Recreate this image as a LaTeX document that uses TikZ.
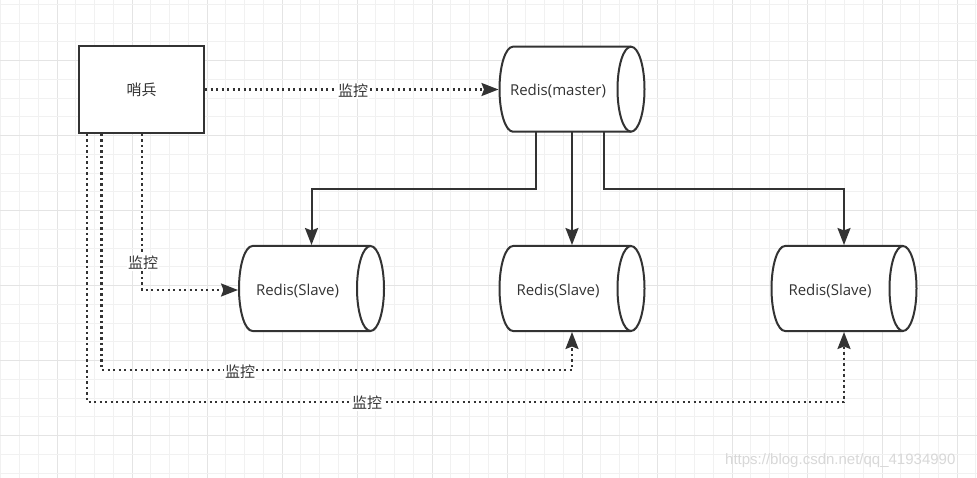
\documentclass[tikz,border=0pt]{standalone}
\usepackage{fontspec}
\setmainfont{Liberation Sans}
\newfontfamily\cjk{Noto Sans CJK SC}
\newfontfamily\lat{Open Sans}
\usetikzlibrary{arrows.meta,calc}
\definecolor{ink}{HTML}{333333}
\definecolor{gridminor}{HTML}{F1F1F1}
\definecolor{gridmajor}{HTML}{E4E4E4}
\definecolor{wm}{HTML}{D8D8D8}
\newcommand{\cylbody}[1]{%
  \draw[draw=ink, line width=2pt, fill=white, line join=round]
    ([xshift=13.5pt]#1.north west) -- ([xshift=-13.5pt]#1.north east)
    arc[start angle=90, end angle=-90, x radius=13.5pt, y radius=42.5pt]
    -- ([xshift=13.5pt]#1.south west)
    arc[start angle=270, end angle=90, x radius=13.5pt, y radius=42.5pt] -- cycle;
  \draw[draw=ink, line width=2pt]
    ([xshift=-13.5pt]#1.north east)
    arc[start angle=90, end angle=270, x radius=13.5pt, y radius=42.5pt];}
\begin{document}
\begin{tikzpicture}[x=1pt,y=-1pt,
  txt/.style={font=\cjk\fontsize{15}{18}\selectfont, text=ink},
  sentry/.style={txt, draw=ink, line width=2pt, fill=white, minimum width=125pt, minimum height=87pt, inner sep=0pt},
  cyl/.style={font=\lat\fontsize{15}{18}\selectfont, text=ink, minimum width=145pt, minimum height=85pt, inner sep=0pt, outer sep=0pt},
  solidarrow/.style={draw=ink, line width=2pt, -{Stealth[length=17pt,width=13pt,inset=2.5pt]}},
  dotarrow/.style={draw=ink, line width=2.2pt, dash pattern=on 2.2pt off 3.3pt, -{Stealth[length=17pt,width=13pt,inset=2.5pt]}},
  lbl/.style={txt, fill=white, inner sep=1pt}
]
\fill[white] (0,0) rectangle (977,478);
\useasboundingbox (0,0) rectangle (977,478);
% grid
\foreach \i in {0,...,52} {
  \pgfmathtruncatemacro{\r}{mod(\i,4)}
  \ifnum\r=3 \def\gc{gridmajor}\else\def\gc{gridminor}\fi
  \draw[\gc, line width=1pt] ({0.75+18.75*\i},0) -- ({0.75+18.75*\i},478);
}
\foreach \j in {0,...,25} {
  \pgfmathtruncatemacro{\r}{mod(\j,4)}
  \ifnum\r=3 \def\gc{gridmajor}\else\def\gc{gridminor}\fi
  \draw[\gc, line width=1pt] (0,{4.3+18.75*\j}) -- (977,{4.3+18.75*\j});
}
% nodes
\node[sentry] (sb) at (141.5,89.5) {哨兵};
\node[cyl] (m) at (572,89.2) {};
\node[cyl] (s1) at (311.5,288.5) {};
\node[cyl] (s2) at (572,288.5) {};
\node[cyl] (s3) at (844,288.5) {};
\cylbody{m}\cylbody{s1}\cylbody{s2}\cylbody{s3}
\node[cyl, yshift=-2pt] at (m.center) {\hspace*{-28pt}Redis(master)};
\node[cyl, yshift=-2pt] at (s1.center) {\hspace*{-28pt}Redis(Slave)};
\node[cyl, yshift=-2pt] at (s2.center) {\hspace*{-28pt}Redis(Slave)};
\node[cyl, yshift=-2pt] at (s3.center) {\hspace*{-28pt}Redis(Slave)};
% master -> slaves
\draw[solidarrow] ($(m.south)+(-36,0)$) -- ++(0,57) -| ($(s1.north)+(0,-1)$);
\draw[solidarrow] (m.south) -- ($(s2.north)+(0,-1)$);
\draw[solidarrow] ($(m.south)+(32,0)$) -- ++(0,57) -| ($(s3.north)+(0,-1)$);
% sentinel monitoring
\draw[dotarrow] (sb.east) -- ($(m.west)+(-1,0.3)$);
\draw[dotarrow] ($(sb.south)+(0.5,0)$) |- ($(s1.west)+(-1,1.5)$);
\draw[dotarrow] ($(sb.south)+(-40,0)$) -- ++(0,236) -| ($(s2.south)+(0,1)$);
\draw[dotarrow] ($(sb.south)+(-54.5,0)$) -- ++(0,268) -| ($(s3.south)+(0,1)$);
% labels
\node[lbl] (l1) at (353,91) {监控};
\node[lbl] (l2) at (143,263) {监控};
\node[lbl] (l3) at (240,372) {监控};
\node[lbl] (l4) at (367,403) {监控};
% watermark
\node[font=\fontsize{15}{18}\selectfont, text=wm, anchor=west, inner sep=0pt] (wmk) at (725,461) {https://blog.csdn.net/qq\_41934990};
\end{tikzpicture}
\end{document}
